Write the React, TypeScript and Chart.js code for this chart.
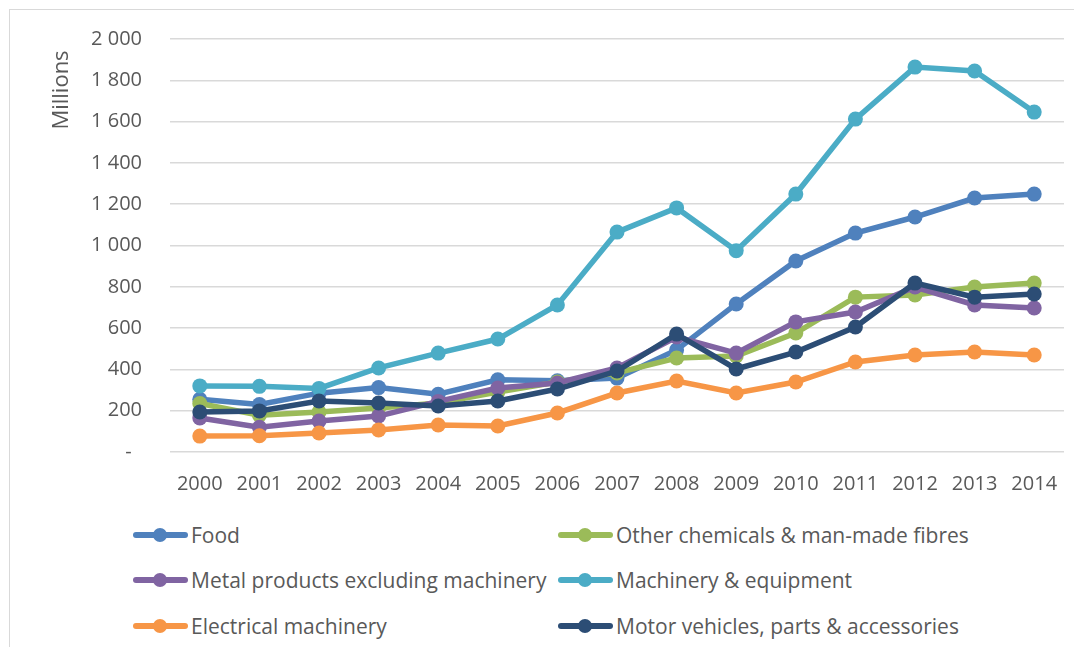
import React, { useEffect, useRef } from "react";
import { Chart, registerables } from "chart.js";

Chart.register(...registerables);

const years = ["2000", "2001", "2002", "2003", "2004", "2005", "2006", "2007", "2008", "2009", "2010", "2011", "2012", "2013", "2014"];

const food = [255, 230, 285, 312, 280, 350, 345, 358, 494, 717, 925, 1060, 1138, 1230, 1249];
const otherChemicals = [235, 178, 194, 213, 237, 290, 339, 383, 455, 465, 576, 750, 760, 799, 818];
const metalProducts = [165, 120, 150, 174, 245, 310, 334, 407, 557, 479, 630, 678, 799, 712, 697];
const machinery = [320, 318, 308, 407, 479, 547, 712, 1065, 1182, 975, 1249, 1612, 1864, 1845, 1646];
const electrical = [77, 79, 92, 107, 131, 126, 189, 286, 344, 286, 339, 436, 470, 484, 470];
const motorVehicles = [194, 199, 247, 237, 223, 247, 305, 392, 571, 402, 484, 605, 818, 750, 765];

const seriesNames = [
  "Food",
  "Other chemicals & man-made fibres",
  "Metal products excluding machinery",
  "Machinery & equipment",
  "Electrical machinery",
  "Motor vehicles, parts & accessories",
];
const seriesValues = [food, otherChemicals, metalProducts, machinery, electrical, motorVehicles];
const seriesColors = ["#4F81BD", "#9BBB59", "#8064A2", "#4BACC6", "#F79646", "#2C4D75"];

const yMin = 0;
const yMax = 2000;
const yStep = 200;
const yTitle = "Millions";

const FONT = "'Open Sans', sans-serif";
const TEXT = "#595959";

function formatTick(v: number): string {
  if (v === 0) return "-  ";
  if (v >= 1000) return `${Math.floor(v / 1000)} ${String(v % 1000).padStart(3, "0")}`;
  return String(v);
}

const yTitlePlugin = {
  id: "yTitleDraw",
  afterDraw(chart: any) {
    const ctx = chart.ctx;
    ctx.save();
    ctx.translate(54, 82);
    ctx.rotate(-Math.PI / 2);
    ctx.font = `22px ${FONT}`;
    ctx.fillStyle = TEXT;
    ctx.textAlign = "center";
    ctx.textBaseline = "middle";
    ctx.fillText(yTitle, 0, 0);
    ctx.restore();
  },
};

function LegendMarker({ color }: { color: string }) {
  return (
    <div style={{ position: "relative", width: 55, height: 30, flex: "0 0 55px" }}>
      <div style={{ position: "absolute", left: 0, top: 12, width: 55, height: 6, borderRadius: 3, background: color }} />
      <div style={{ position: "absolute", left: 20, top: 8, width: 14, height: 14, borderRadius: "50%", background: color }} />
    </div>
  );
}

export default function App() {
  const canvasRef = useRef<HTMLCanvasElement | null>(null);

  useEffect(() => {
    const canvas = canvasRef.current;
    if (!canvas) return;
    const chart = new Chart(canvas, {
      type: "line",
      data: {
        labels: years,
        datasets: seriesNames.map((name, i) => ({
          label: name,
          data: seriesValues[i],
          borderColor: seriesColors[i],
          backgroundColor: seriesColors[i],
          pointBackgroundColor: seriesColors[i],
          pointBorderColor: seriesColors[i],
          pointBorderWidth: 0,
          pointRadius: 7.5,
          pointHoverRadius: 7.5,
          borderWidth: 5.5,
          tension: 0,
          fill: false,
          order: seriesNames.length - i,
        })),
      },
      options: {
        responsive: false,
        animation: false,
        devicePixelRatio: 1,
        layout: { padding: { left: 0, right: 18, top: 31, bottom: 0 } },
        plugins: {
          legend: { display: false },
          tooltip: { enabled: false },
          title: { display: false },
        },
        scales: {
          x: {
            offset: true,
            grid: { display: false, drawTicks: false },
            border: { display: false },
            ticks: {
              color: TEXT,
              font: { family: FONT, size: 20 },
              padding: 20,
              maxRotation: 0,
              autoSkip: false,
            },
            afterFit(scale: any) {
              scale.height = 56;
              scale.paddingLeft = 0;
              scale.paddingRight = 0;
            },
          },
          y: {
            min: yMin,
            max: yMax,
            grid: { color: "#D9D9D9", lineWidth: 1.5, drawTicks: false },
            border: { display: false },
            ticks: {
              stepSize: yStep,
              color: TEXT,
              font: { family: FONT, size: 20 },
              padding: 28,
              callback: (v: any) => formatTick(Number(v)),
            },
            afterFit(scale: any) {
              scale.width = 162;
              scale.paddingTop = 0;
              scale.paddingBottom = 0;
            },
          },
        },
      },
      plugins: [yTitlePlugin],
    });
    return () => chart.destroy();
  }, []);

  const legendRows = [527, 572, 618];
  const legendCols = [125, 550];

  return (
    <div style={{ position: "relative", width: 1074, height: 639, fontFamily: FONT }}>
      <div
        style={{
          position: "absolute",
          left: 1,
          top: 1,
          width: 1073,
          height: 646,
          borderTop: "1px solid #D9D9D9",
          borderLeft: "1px solid #D9D9D9",
          boxSizing: "border-box",
        }}
      />
      <canvas
        ref={canvasRef}
        width={1074}
        height={500}
        style={{ position: "absolute", left: 0, top: 0, width: 1074, height: 500 }}
      />
      {seriesNames.map((name, i) => {
        const row = Math.floor(i / 2);
        const col = i % 2;
        return (
          <div
            key={name}
            style={{
              position: "absolute",
              left: legendCols[col],
              top: legendRows[row] - 15,
              height: 30,
              display: "flex",
              alignItems: "center",
              whiteSpace: "nowrap",
            }}
          >
            <LegendMarker color={seriesColors[i]} />
            <span style={{ marginLeft: 3, fontSize: 21, color: TEXT, lineHeight: "30px" }}>{name}</span>
          </div>
        );
      })}
    </div>
  );
}
